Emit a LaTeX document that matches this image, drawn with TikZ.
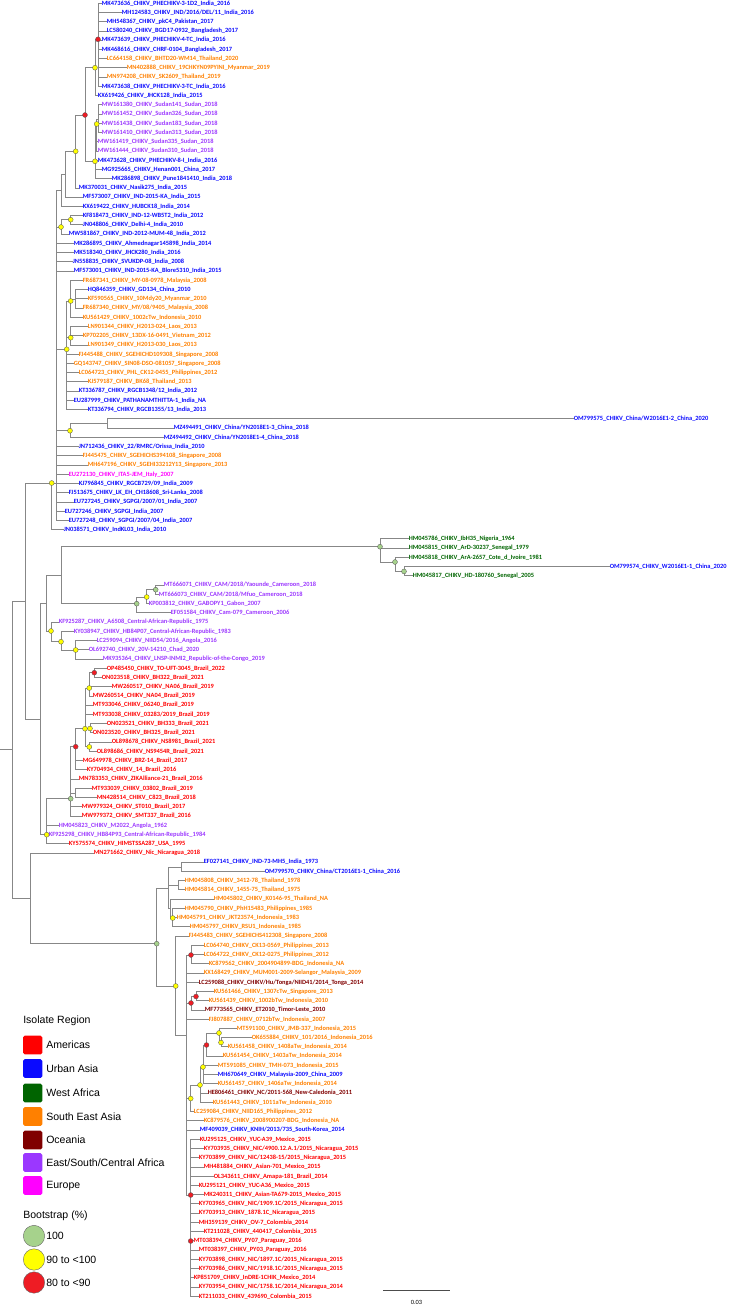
\documentclass[tikz,border=0pt]{standalone}
\usepackage{fontspec}
\setmainfont{Carlito}
\newfontfamily\legfont{Liberation Sans}
\definecolor{am}{RGB}{255,0,0}
\definecolor{ua}{RGB}{10,10,255}
\definecolor{wa}{RGB}{0,100,0}
\definecolor{sea}{RGB}{255,128,0}
\definecolor{oc}{RGB}{128,0,0}
\definecolor{esca}{RGB}{155,55,255}
\definecolor{eu}{RGB}{255,0,255}
\definecolor{brc}{RGB}{135,135,135}
\definecolor{dgreen}{RGB}{166,210,140}
\definecolor{dyellow}{RGB}{255,255,0}
\definecolor{dred}{RGB}{238,28,36}
\pgfmathdeclarefunction{ry}{1}{\pgfmathparse{3.3+(#1-1)*9.236}}
\tikzset{
  br/.style={draw=brc, line width=0.75pt},
  tiplab/.style={anchor=west, inner sep=0pt, outer sep=0pt,
    font=\fontsize{4.8}{5.5}\selectfont\bfseries, text height=3.3pt, text depth=0.7pt},
  dot/.style={circle, draw=black!65, line width=0.25pt, inner sep=0pt, minimum size=3.7pt},
  d100/.style={dot, fill=dgreen},
  d90/.style={dot, fill=dyellow},
  d80/.style={dot, fill=dred},
  legtxt/.style={anchor=west, inner sep=0pt, font=\legfont\fontsize{7.9}{9}\selectfont},
  swatch/.style={rounded corners=1.2pt, draw=none},
  legdot/.style={circle, draw=black!60, line width=0.3pt, inner sep=0pt, minimum size=16pt}
}
\newcommand\tp[4]{\node[tiplab,text=#3] (t#1) at ({#2-1.2},{ry(#1)}) {#4};}
\newcommand\et[2]{\foreach \k in {#2} {\draw[br] (#1) |- (t\k.west);}}
\newcommand\ee[2]{\draw[br] (#1) |- (#2);}
\catcode`\_=12
\begin{document}
\begin{tikzpicture}[x=0.75pt,y=-0.75pt]
\useasboundingbox (0,0) rectangle (731,1314);
% ---------------- tips ----------------
\tp{1}{103}{ua}{MK473636_CHIKV_PHECHIKV-3-1D2_India_2016}
\tp{2}{123}{ua}{MH124583_CHIKV_IND/2016/DEL/11_India_2016}
\tp{3}{108}{ua}{MH548367_CHIKV_pkC4_Pakistan_2017}
\tp{4}{108}{ua}{LC580240_CHIKV_BGD17-0932_Bangladesh_2017}
\tp{5}{103}{ua}{MK473639_CHIKV_PHECHIKV-4-TC_India_2016}
\tp{6}{103}{ua}{MK468616_CHIKV_CHRF-0104_Bangladesh_2017}
\tp{7}{108}{sea}{LC664158_CHIKV_BHTD20-WM14_Thailand_2020}
\tp{8}{128}{sea}{MN402888_CHIKV_19CHKYN09PYINI_Myanmar_2019}
\tp{9}{108}{sea}{MN974208_CHIKV_SK2609_Thailand_2019}
\tp{10}{103}{ua}{MK473638_CHIKV_PHECHIKV-3-TC_India_2016}
\tp{11}{99}{ua}{KX619426_CHIKV_JHCK128_India_2015}
\tp{12}{103}{esca}{MW161380_CHIKV_Sudan141_Sudan_2018}
\tp{13}{103}{esca}{MW161452_CHIKV_Sudan326_Sudan_2018}
\tp{14}{103}{esca}{MW161438_CHIKV_Sudan183_Sudan_2018}
\tp{15}{103}{esca}{MW161410_CHIKV_Sudan313_Sudan_2018}
\tp{16}{99}{esca}{MW161419_CHIKV_Sudan335_Sudan_2018}
\tp{17}{99}{esca}{MW161444_CHIKV_Sudan310_Sudan_2018}
\tp{18}{99}{ua}{MK473628_CHIKV_PHECHIKV-8-I_India_2016}
\tp{19}{103}{ua}{MG925665_CHIKV_Henan001_China_2017}
\tp{20}{113}{ua}{MK286898_CHIKV_Pune1841410_India_2018}
\tp{21}{80}{ua}{MK370031_CHIKV_Nasik275_India_2015}
\tp{22}{84}{ua}{MF573007_CHIKV_IND-2015-KA_India_2015}
\tp{23}{84}{ua}{KX619422_CHIKV_HUBCK18_India_2014}
\tp{24}{84}{ua}{KF818473_CHIKV_IND-12-WB5T2_India_2012}
\tp{25}{84}{ua}{JN048806_CHIKV_Delhi-4_India_2010}
\tp{26}{70}{ua}{MW581867_CHIKV_IND-2012-MUM-48_India_2012}
\tp{27}{75}{ua}{MK286895_CHIKV_Ahmednagar145898_India_2014}
\tp{28}{75}{ua}{MK518340_CHIKV_JHCK280_India_2016}
\tp{29}{74}{ua}{JN558835_CHIKV_SVUKDP-08_India_2008}
\tp{30}{75}{ua}{MF573001_CHIKV_IND-2015-KA_Blore5310_India_2015}
\tp{31}{84}{sea}{FR687341_CHIKV_MY-08-0978_Malaysia_2008}
\tp{32}{89}{ua}{HQ846359_CHIKV_GD134_China_2010}
\tp{33}{89}{sea}{KF590565_CHIKV_10Mdy20_Myanmar_2010}
\tp{34}{84}{sea}{FR687340_CHIKV_MY/08/9405_Malaysia_2008}
\tp{35}{84}{sea}{KU561429_CHIKV_1002cTw_Indonesia_2010}
\tp{36}{89}{sea}{LN901344_CHIKV_H2013-024_Laos_2013}
\tp{37}{84}{sea}{KP702205_CHIKV_13DX-16-0491_Vietnam_2012}
\tp{38}{89}{sea}{LN901349_CHIKV_H2013-030_Laos_2013}
\tp{39}{80}{sea}{FJ445488_CHIKV_SGEHICHD109308_Singapore_2008}
\tp{40}{75}{sea}{GQ143747_CHIKV_SIN08-DSO-081057_Singapore_2008}
\tp{41}{80}{sea}{LC064723_CHIKV_PHL_CK12-0455_Philippines_2012}
\tp{42}{89}{sea}{KJ579187_CHIKV_BK68_Thailand_2013}
\tp{43}{80}{ua}{KT336787_CHIKV_RGCB1348/12_India_2012}
\tp{44}{75}{ua}{EU287999_CHIKV_PATHANAMTHITTA-1_India_NA}
\tp{45}{89}{ua}{KT336794_CHIKV_RGCB1355/13_India_2013}
\tp{46}{575}{ua}{OM799575_CHIKV_China/W2016E1-2_China_2020}
\tp{47}{175}{ua}{MZ494491_CHIKV_China/YN2018E1-3_China_2018}
\tp{48}{165}{ua}{MZ494492_CHIKV_China/YN2018E1-4_China_2018}
\tp{49}{80}{ua}{JN712436_CHIKV_22/RMRC/Orissa_India_2010}
\tp{50}{84}{sea}{FJ445475_CHIKV_SGEHICHS394108_Singapore_2008}
\tp{51}{89}{sea}{MH647196_CHIKV_SGEHI33212Y13_Singapore_2013}
\tp{52}{70}{eu}{EU272130_CHIKV_ITA5-JEM_Italy_2007}
\tp{53}{80}{ua}{KJ796845_CHIKV_RGCB729/09_India_2009}
\tp{54}{70}{ua}{FJ513675_CHIKV_LK_EH_CH18608_Sri-Lanka_2008}
\tp{55}{75}{ua}{EU727245_CHIKV_SGPGI/2007/01_India_2007}
\tp{56}{66}{ua}{EU727246_CHIKV_SGPGI_India_2007}
\tp{57}{70}{ua}{EU727248_CHIKV_SGPGI/2007/04_India_2007}
\tp{58}{65}{ua}{JN038571_CHIKV_IndKL03_India_2010}
\tp{59}{410}{wa}{HM045786_CHIKV_IbH35_Nigeria_1964}
\tp{60}{410}{wa}{HM045815_CHIKV_ArD-30237_Senegal_1979}
\tp{61}{410}{wa}{HM045818_CHIKV_ArA-2657_Cote_d_Ivoire_1981}
\tp{62}{611}{ua}{OM799574_CHIKV_W2016E1-1_China_2020}
\tp{63}{414}{wa}{HM045817_CHIKV_HD-180760_Senegal_2005}
\tp{64}{165}{esca}{MT666071_CHIKV_CAM/2018/Yaounde_Cameroon_2018}
\tp{65}{160}{esca}{MT666073_CHIKV_CAM/2018/Mfuo_Cameroon_2018}
\tp{66}{150}{esca}{KP003812_CHIKV_GABOPY1_Gabon_2007}
\tp{67}{172}{esca}{EF051584_CHIKV_Cam-079_Cameroon_2006}
\tp{68}{60}{esca}{KF925287_CHIKV_A6508_Central-African-Republic_1975}
\tp{69}{75}{esca}{KY038947_CHIKV_HB84P07_Central-African-Republic_1983}
\tp{70}{98}{esca}{LC259094_CHIKV_NIID54/2016_Angola_2016}
\tp{71}{90}{esca}{OL692740_CHIKV_20V-14210_Chad_2020}
\tp{72}{104}{esca}{MK935364_CHIKV_LNSP-INMI2_Republic-of-the-Congo_2019}
\tp{73}{108}{am}{OP485450_CHIKV_TO-UFT-3045_Brazil_2022}
\tp{74}{103}{am}{ON023518_CHIKV_BH322_Brazil_2021}
\tp{75}{113}{am}{MW260517_CHIKV_NA06_Brazil_2019}
\tp{76}{94}{am}{MW260514_CHIKV_NA04_Brazil_2019}
\tp{77}{94}{am}{MT933046_CHIKV_06240_Brazil_2019}
\tp{78}{94}{am}{MT933038_CHIKV_03283/2019_Brazil_2019}
\tp{79}{108}{am}{ON023521_CHIKV_BH333_Brazil_2021}
\tp{80}{94}{am}{ON023520_CHIKV_BH325_Brazil_2021}
\tp{81}{113}{am}{OL898678_CHIKV_NS8981_Brazil_2021}
\tp{82}{98}{am}{OL898686_CHIKV_NS9454R_Brazil_2021}
\tp{83}{84}{am}{MG649978_CHIKV_BRZ-14_Brazil_2017}
\tp{84}{88}{am}{KY704934_CHIKV_14_Brazil_2016}
\tp{85}{80}{am}{MN783353_CHIKV_ZIKAlliance-21_Brazil_2016}
\tp{86}{93}{am}{MT933039_CHIKV_03802_Brazil_2019}
\tp{87}{98}{am}{MN428514_CHIKV_C823_Brazil_2018}
\tp{88}{83}{am}{MW979324_CHIKV_ST010_Brazil_2017}
\tp{89}{83}{am}{MW979372_CHIKV_SMT337_Brazil_2016}
\tp{90}{60}{esca}{HM045823_CHIKV_M2022_Angola_1962}
\tp{91}{50}{esca}{KF925298_CHIKV_HB84P93_Central-African-Republic_1984}
\tp{92}{70}{am}{KY575574_CHIKV_HIMSTSSA287_USA_1995}
\tp{93}{95}{am}{MN271662_CHIKV_Nic_Nicaragua_2018}
\tp{94}{205}{ua}{EF027141_CHIKV_IND-73-MH5_India_1973}
\tp{95}{266}{ua}{OM799570_CHIKV_China/CT2016E1-1_China_2016}
\tp{96}{186}{sea}{HM045808_CHIKV_3412-78_Thailand_1978}
\tp{97}{186}{sea}{HM045814_CHIKV_1455-75_Thailand_1975}
\tp{98}{215}{sea}{HM045802_CHIKV_K0146-95_Thailand_NA}
\tp{99}{186}{sea}{HM045790_CHIKV_PhH15483_Philippines_1985}
\tp{100}{178}{sea}{HM045791_CHIKV_JKT23574_Indonesia_1983}
\tp{101}{191}{sea}{HM045797_CHIKV_RSU1_Indonesia_1985}
\tp{102}{190}{sea}{FJ445483_CHIKV_SGEHICHS412308_Singapore_2008}
\tp{103}{205}{sea}{LC064740_CHIKV_CK13-0569_Philippines_2013}
\tp{104}{205}{sea}{LC064722_CHIKV_CK12-0275_Philippines_2012}
\tp{105}{210}{sea}{KC879562_CHIKV_2004904899-BDG_Indonesia_NA}
\tp{106}{205}{sea}{KX168429_CHIKV_MUM001-2009-Selangor_Malaysia_2009}
\tp{107}{200}{oc}{LC259088_CHIKV_CHIKV/Hu/Tonga/NIID41/2014_Tonga_2014}
\tp{108}{215}{sea}{KU561466_CHIKV_1307cTw_Singapore_2013}
\tp{109}{210}{sea}{KU561439_CHIKV_1002bTw_Indonesia_2010}
\tp{110}{206}{oc}{MF773565_CHIKV_ET2010_Timor-Leste_2010}
\tp{111}{210}{sea}{FJ807887_CHIKV_0712bTw_Indonesia_2007}
\tp{112}{238}{sea}{MT591100_CHIKV_JMB-337_Indonesia_2015}
\tp{113}{253}{sea}{OK655884_CHIKV_101/2016_Indonesia_2016}
\tp{114}{229}{sea}{KU561458_CHIKV_1408aTw_Indonesia_2014}
\tp{115}{224}{sea}{KU561454_CHIKV_1403aTw_Indonesia_2014}
\tp{116}{219}{sea}{MT591085_CHIKV_TMH-073_Indonesia_2015}
\tp{117}{219}{ua}{MH670649_CHIKV_Malaysia-2009_China_2009}
\tp{118}{219}{sea}{KU561457_CHIKV_1406aTw_Indonesia_2014}
\tp{119}{209}{oc}{HE806461_CHIKV_NC/2011-568_New-Caledonia_2011}
\tp{120}{214}{sea}{KU561443_CHIKV_1011aTw_Indonesia_2010}
\tp{121}{195}{sea}{LC259084_CHIKV_NIID165_Philippines_2012}
\tp{122}{205}{sea}{KC879576_CHIKV_2008900207-BDG_Indonesia_NA}
\tp{123}{201}{ua}{MF409039_CHIKV_KNIH/2013/735_South-Korea_2014}
\tp{124}{201}{am}{KU295125_CHIKV_YUC-A39_Mexico_2015}
\tp{125}{205}{am}{KY703935_CHIKV_NIC/4900.12.A.1/2015_Nicaragua_2015}
\tp{126}{200}{am}{KY703899_CHIKV_NIC/12438-15/2015_Nicaragua_2015}
\tp{127}{205}{am}{MH481884_CHIKV_Asian-701_Mexico_2015}
\tp{128}{215}{am}{OL343611_CHIKV_Amapa-181_Brazil_2014}
\tp{129}{200}{am}{KU295121_CHIKV_YUC-A36_Mexico_2015}
\tp{130}{205}{am}{MK240311_CHIKV_Asian-TA679-2015_Mexico_2015}
\tp{131}{200}{am}{KY703965_CHIKV_NIC/1909.1C/2015_Nicaragua_2015}
\tp{132}{200}{am}{KY703913_CHIKV_1878.1C_Nicaragua_2015}
\tp{133}{200}{am}{MH359139_CHIKV_OV-7_Colombia_2014}
\tp{134}{205}{am}{KT211028_CHIKV_440417_Colombia_2015}
\tp{135}{195}{am}{MT038394_CHIKV_PY07_Paraguay_2016}
\tp{136}{200}{am}{MT038397_CHIKV_PY03_Paraguay_2016}
\tp{137}{200}{am}{KY703898_CHIKV_NIC/1897.1C/2015_Nicaragua_2015}
\tp{138}{200}{am}{KY703986_CHIKV_NIC/1918.1C/2015_Nicaragua_2015}
\tp{139}{195}{am}{KP851709_CHIKV_InDRE-1CHIK_Mexico_2014}
\tp{140}{200}{am}{KY703954_CHIKV_NIC/1758.1C/2014_Nicaragua_2014}
\tp{141}{200}{am}{KT211033_CHIKV_439690_Colombia_2015}
% ---------------- internal nodes ----------------
\coordinate (n1a) at (98,39.3);   \coordinate (n1) at (95,67.7);
\coordinate (s1) at (98.3,119);   \coordinate (s) at (96.7,124);
\coordinate (b) at (95,161.3);    \coordinate (r1) at (85,115);
\coordinate (y2) at (75.7,151.3); \coordinate (n22) at (65.7,174.5);
\coordinate (n23) at (61,190.7);  \coordinate (y3) at (70.7,219.7);
\coordinate (y4) at (61,227);     \coordinate (q1) at (75.7,299);
\coordinate (q0) at (70.7,301);   \coordinate (q2) at (70.7,337.7);
\coordinate (q) at (66.7,349.3);  \coordinate (m1) at (107.7,423.6);
\coordinate (m) at (70,430.7);    \coordinate (p) at (56.7,483);
\coordinate (I) at (51.7,483);
\coordinate (wa3) at (404,571.4); \coordinate (wa2) at (395,562);
\coordinate (wa1) at (380,546.7);
\coordinate (c2) at (155.7,589.7); \coordinate (c1) at (146.7,597);
\coordinate (c) at (136.7,603.7);  \coordinate (w) at (61.7,575);
\coordinate (e3) at (75.7,650);    \coordinate (e2) at (61,641.7);
\coordinate (e1) at (51,631);      \coordinate (e0) at (46.7,603);
\coordinate (br3) at (94.3,672.7); \coordinate (br2) at (89.3,688);
\coordinate (br5) at (90,728.5);   \coordinate (br6) at (89.3,746.9);
\coordinate (br4) at (85,728.7);   \coordinate (br7) at (75.7,746.7);
\coordinate (bm) at (75,793);      \coordinate (bg) at (70.7,798.7);
\coordinate (ec) at (46.7,834.7);  \coordinate (d1) at (40,719);
\coordinate (a1) at (181.7,867);   \coordinate (a2) at (178,885.5);
\coordinate (a4) at (172.7,918);   \coordinate (a3) at (170,908.5);
\coordinate (u) at (168.3,888);
\coordinate (rs1) at (191,955);    \coordinate (rs3) at (196,996.5);
\coordinate (rs2) at (191,1003);
\coordinate (x2) at (221,1042.5);  \coordinate (x1) at (219,1033);
\coordinate (ri) at (206.5,1045);  \coordinate (yi2) at (203,1067);
\coordinate (yi3) at (200,1085);   \coordinate (yi4) at (190.7,1098.5);
\coordinate (am1) at (190.7,1195); \coordinate (am2) at (190.7,1241);
\coordinate (s2) at (186.7,1035);  \coordinate (ya) at (175.7,986);
\coordinate (ga) at (156.7,943.7);
\coordinate (h) at (30,898.4);     \coordinate (g) at (25,601);
\coordinate (root) at (12,749.7);  \coordinate (rootstub) at (0,749.7);
% ---------------- branches ----------------
\et{n1a}{1,...,10} \ee{n1}{n1a} \et{n1}{11}
\et{s1}{12,13,14,15} \ee{s}{s1} \et{s}{16,17}
\ee{b}{s} \et{b}{18,19,20}
\ee{r1}{n1} \ee{r1}{b}
\ee{y2}{r1} \et{y2}{21}
\ee{n22}{y2} \et{n22}{22}
\ee{n23}{n22} \et{n23}{23}
\et{y3}{24,25} \ee{y4}{y3} \et{y4}{26}
\et{q1}{32,33,34} \ee{q0}{q1} \et{q0}{31,35}
\et{q2}{36,37,38}
\ee{q}{q0} \ee{q}{q2} \et{q}{39,...,45}
\et{m1}{46,47} \ee{m}{m1} \et{m}{48}
\ee{p}{n23} \ee{p}{y4} \ee{p}{q} \ee{p}{m}
\et{p}{27,28,29,30,49,50,51,52,53,54,55,56,57}
\ee{I}{p} \et{I}{58}
\et{wa3}{62,63} \ee{wa2}{wa3} \et{wa2}{61}
\ee{wa1}{wa2} \et{wa1}{59,60}
\et{c2}{64,65} \ee{c1}{c2} \et{c1}{66} \ee{c}{c1} \et{c}{67}
\ee{w}{wa1} \ee{w}{c}
\et{e3}{70,71,72} \ee{e2}{e3} \et{e2}{69} \ee{e1}{e2} \et{e1}{68}
\ee{e0}{w} \ee{e0}{e1}
\et{br3}{73,74} \ee{br2}{br3} \et{br2}{75,76}
\et{br5}{79,80} \et{br6}{81,82}
\ee{br4}{br2} \ee{br4}{br5} \ee{br4}{br6} \et{br4}{77,78}
\ee{br7}{br4} \et{br7}{83,84}
\et{bm}{86,87} \ee{bg}{br7} \ee{bg}{bm} \et{bg}{85,88,89}
\ee{ec}{bg} \et{ec}{90,91,92}
\ee{d1}{e0} \ee{d1}{ec}
\et{a1}{94,95} \et{a2}{96,97} \et{a4}{99,100,101} \ee{a3}{a4} \et{a3}{98}
\ee{u}{a1} \ee{u}{a2} \ee{u}{a3}
\et{rs1}{103,104,105} \et{rs3}{108,109} \ee{rs2}{rs3} \et{rs2}{110}
\et{x2}{113,114} \ee{x1}{x2} \et{x1}{112}
\ee{ri}{x1} \et{ri}{115}
\ee{yi2}{ri} \et{yi2}{116,117,118}
\ee{yi3}{yi2} \et{yi3}{119,120}
\ee{yi4}{yi3} \et{yi4}{121}
\et{am2}{135,...,141} \ee{am1}{am2} \et{am1}{124,...,134}
\ee{s2}{rs1} \ee{s2}{rs2} \ee{s2}{yi4} \ee{s2}{am1} \et{s2}{106,107,111,122,123}
\ee{ya}{s2} \et{ya}{102}
\ee{ga}{u} \ee{ga}{ya}
\ee{h}{ga} \et{h}{93}
\ee{g}{I} \ee{g}{d1}
\ee{root}{g} \ee{root}{h}
\draw[br] (rootstub) -- (root);
% ---------------- bootstrap dots ----------------
\foreach \n in {n1a,r1,br3,br7,rs1,rs3,rs2,ri,am1,am2} {\node[d80] at (\n) {};}
\foreach \n in {n1,s,b,y2,y3,y4,q0,q2,q,m,I,c1,e1,e2,e3,br2,br4,br5,br6,ec,a4,x1,x2,yi2,yi3,yi4,ya} {\node[d90] at (\n) {};}
\foreach \n in {c,c2,bg,ga,wa1,wa2,wa3} {\node[d100] at (\n) {};}
% ---------------- scale bar ----------------
\coordinate (sbA) at (383,1290); \coordinate (sbB) at (450,1290);
\draw[draw=black!70, line width=0.6pt] (sbA) -- (sbB);
\node[font=\fontsize{4.8}{5}\selectfont, inner sep=0pt] (sbl) at (416.5,1302) {0.03};
% ---------------- legend ----------------
\node[legtxt] (ltitle) at (23,1021) {Isolate Region};
\foreach \c/\t/\yy in {am/Americas/1045, ua/Urban Asia/1068.5, wa/West Africa/1093,
  sea/South East Asia/1116.5, oc/Oceania/1140, esca/East\slash South\slash Central Africa/1162.5, eu/Europe/1185.5}{
  \fill[swatch, fill=\c] (23,\yy-9.3) rectangle (42.3,\yy+9.3);
  \node[legtxt] at (46,\yy) {\t};
}
\node[legtxt] (btitle) at (23,1216) {Bootstrap (\%)};
\node[legdot, fill=dgreen] (lg1) at (34,1236) {};
\node[legdot, fill=dyellow] (lg2) at (34,1259.5) {};
\node[legdot, fill=dred] (lg3) at (34,1282.5) {};
\node[legtxt] at (46,1236) {100};
\node[legtxt] at (46,1259.5) {90 to <100};
\node[legtxt] at (46,1282.5) {80 to <90};
\end{tikzpicture}
\end{document}
